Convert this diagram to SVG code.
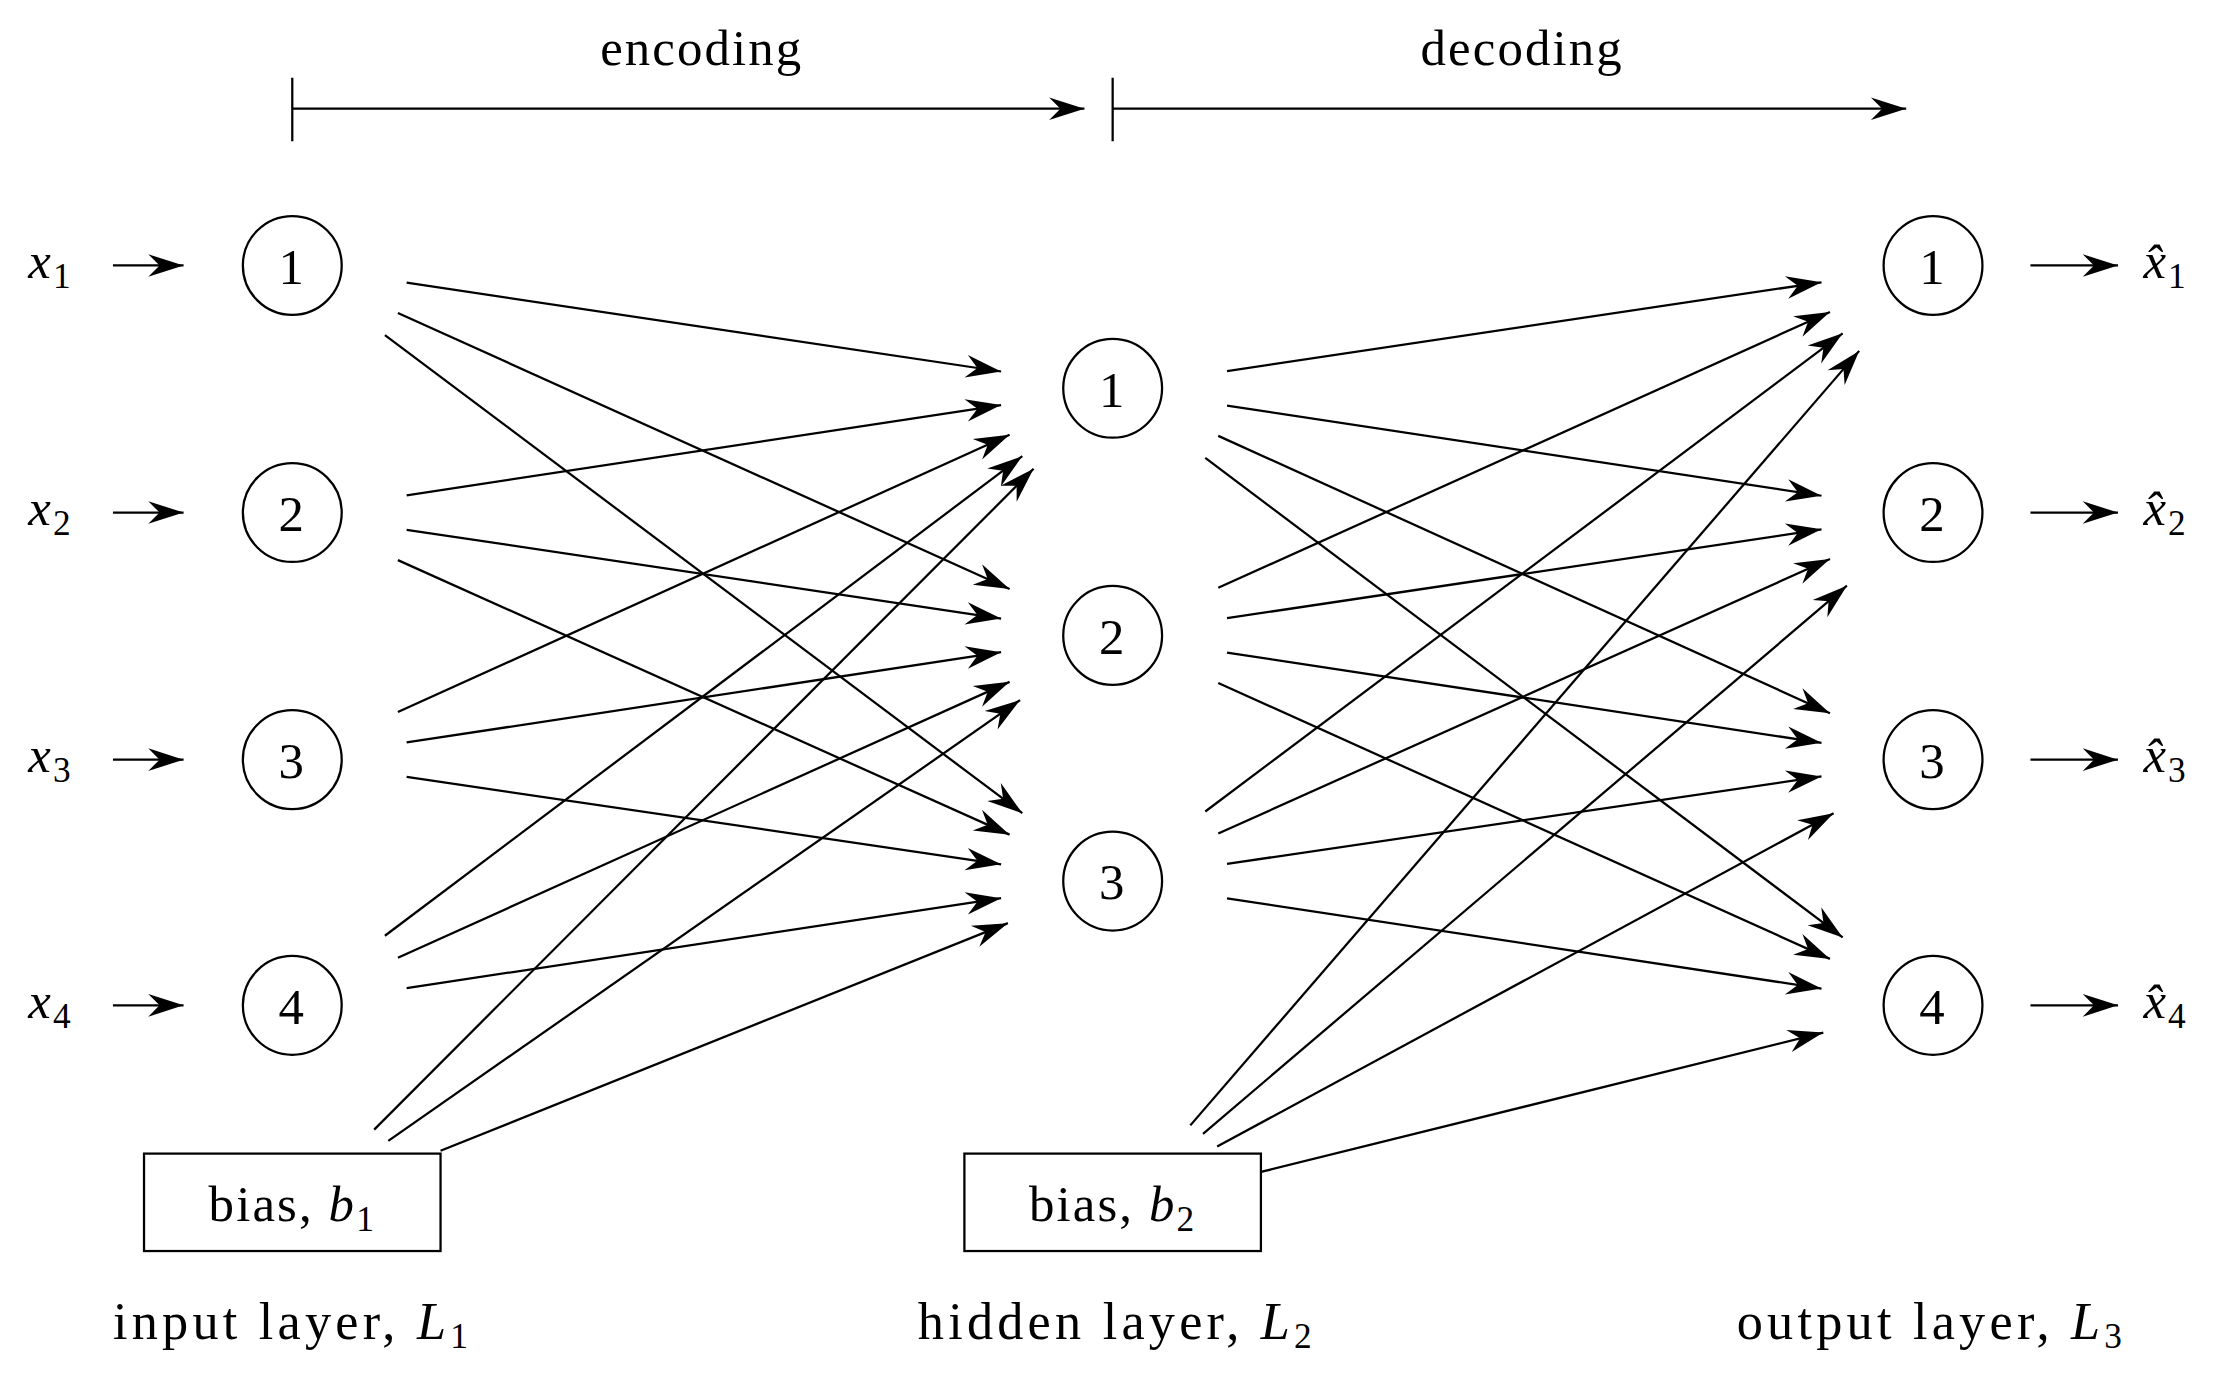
<svg xmlns="http://www.w3.org/2000/svg" width="2214" height="1378" viewBox="0 0 2214 1378">
<style>
.n{fill:#fff;stroke:#000;stroke-width:1.6}
.t{font-family:"Liberation Serif","DejaVu Serif",serif;font-size:36px;fill:#000;letter-spacing:1.5px}
.c{text-anchor:middle}
.i{font-style:italic}
.l{letter-spacing:3px;font-size:37px}
.e{stroke:#000;stroke-width:1.6;fill:none;marker-end:url(#ah)}
.p{stroke:#000;stroke-width:1.6;fill:none}
</style>
<defs>
<marker id="ah" markerUnits="userSpaceOnUse" viewBox="-26 -9 28 18" refX="0" refY="0" markerWidth="28" markerHeight="18" orient="auto">
<path d="M0,0 L-25,-8 L-17,0 L-25,8 Z" fill="#000"/>
</marker>
</defs>
<rect width="2214" height="1378" fill="#fff"/>
<g transform="scale(1.412)">
<g id="connectors">
<path class="p" d="M207,55V100M788,55V100"/>
<line class="e" x1="207" y1="77" x2="768" y2="77"/>
<line class="e" x1="788" y1="77" x2="1350" y2="77"/>
<line class="e" x1="80" y1="188" x2="130" y2="188"/>
<line class="e" x1="80" y1="363" x2="130" y2="363"/>
<line class="e" x1="80" y1="538" x2="130" y2="538"/>
<line class="e" x1="80" y1="712" x2="130" y2="712"/>
<line class="e" x1="1438" y1="188" x2="1500" y2="188"/>
<line class="e" x1="1438" y1="363" x2="1500" y2="363"/>
<line class="e" x1="1438" y1="538" x2="1500" y2="538"/>
<line class="e" x1="1438" y1="712" x2="1500" y2="712"/>
<line class="e" x1="288" y1="200.2" x2="709" y2="263.1"/>
<line class="e" x1="281.8" y1="221.7" x2="715" y2="417.1"/>
<line class="e" x1="272.6" y1="237.3" x2="724" y2="575.9"/>
<line class="e" x1="288" y1="350.8" x2="709" y2="286.9"/>
<line class="e" x1="288" y1="375.2" x2="709" y2="438.1"/>
<line class="e" x1="281.8" y1="396.7" x2="715" y2="591.1"/>
<line class="e" x1="281.8" y1="504.3" x2="715" y2="307.9"/>
<line class="e" x1="288" y1="525.8" x2="709" y2="461.9"/>
<line class="e" x1="288" y1="550.2" x2="709" y2="612.1"/>
<line class="e" x1="272.6" y1="662.7" x2="724" y2="323.1"/>
<line class="e" x1="281.8" y1="678.3" x2="715" y2="482.9"/>
<line class="e" x1="288" y1="699.8" x2="709" y2="636.1"/>
<line class="e" x1="265" y1="800" x2="732" y2="332"/>
<line class="e" x1="275" y1="808" x2="722.4" y2="495.8"/>
<line class="e" x1="312" y1="815" x2="713.8" y2="653.8"/>
<line class="e" x1="869" y1="262.8" x2="1290" y2="199.9"/>
<line class="e" x1="869" y1="287.2" x2="1290" y2="351.1"/>
<line class="e" x1="862.8" y1="308.7" x2="1296" y2="505.1"/>
<line class="e" x1="853.6" y1="324.3" x2="1305" y2="663.9"/>
<line class="e" x1="862.8" y1="416.3" x2="1296" y2="220.9"/>
<line class="e" x1="869" y1="437.8" x2="1290" y2="374.9"/>
<line class="e" x1="869" y1="462.2" x2="1290" y2="526.1"/>
<line class="e" x1="862.8" y1="483.7" x2="1296" y2="679.1"/>
<line class="e" x1="853.6" y1="574.7" x2="1305" y2="236.1"/>
<line class="e" x1="862.8" y1="590.3" x2="1296" y2="395.9"/>
<line class="e" x1="869" y1="611.8" x2="1290" y2="549.9"/>
<line class="e" x1="869" y1="636.2" x2="1290" y2="700.1"/>
<line class="e" x1="843" y1="797" x2="1316.7" y2="248.5"/>
<line class="e" x1="852" y1="803" x2="1308" y2="414.8"/>
<line class="e" x1="862" y1="812" x2="1298.6" y2="576"/>
<line class="e" x1="893" y1="830" x2="1291.3" y2="731.3"/>
</g>
<text class="t c" x="497" y="46">encoding</text>
<text class="t c" x="1078" y="46">decoding</text>
<g id="in1"><circle class="n" cx="207" cy="188" r="35"/><text class="t c" x="207" y="201">1</text></g>
<g id="in2"><circle class="n" cx="207" cy="363" r="35"/><text class="t c" x="207" y="376">2</text></g>
<g id="in3"><circle class="n" cx="207" cy="538" r="35"/><text class="t c" x="207" y="551">3</text></g>
<g id="in4"><circle class="n" cx="207" cy="712" r="35"/><text class="t c" x="207" y="725">4</text></g>
<g id="h1"><circle class="n" cx="788" cy="275" r="35"/><text class="t c" x="788" y="288">1</text></g>
<g id="h2"><circle class="n" cx="788" cy="450" r="35"/><text class="t c" x="788" y="463">2</text></g>
<g id="h3"><circle class="n" cx="788" cy="624" r="35"/><text class="t c" x="788" y="637">3</text></g>
<g id="o1"><circle class="n" cx="1369" cy="188" r="35"/><text class="t c" x="1369" y="201">1</text></g>
<g id="o2"><circle class="n" cx="1369" cy="363" r="35"/><text class="t c" x="1369" y="376">2</text></g>
<g id="o3"><circle class="n" cx="1369" cy="538" r="35"/><text class="t c" x="1369" y="551">3</text></g>
<g id="o4"><circle class="n" cx="1369" cy="712" r="35"/><text class="t c" x="1369" y="725">4</text></g>
<g id="b1"><rect class="n" x="102" y="817" width="210" height="69"/><text class="t c" x="207" y="865">bias, <tspan class="i">b</tspan><tspan font-size="25" dy="7">1</tspan></text></g>
<g id="b2"><rect class="n" x="683" y="817" width="210" height="69"/><text class="t c" x="788" y="865">bias, <tspan class="i">b</tspan><tspan font-size="25" dy="7">2</tspan></text></g>
<g id="xin">
<text class="t" x="20" y="197"><tspan class="i">x</tspan><tspan font-size="25" dy="7">1</tspan></text>
<text class="t" x="20" y="372"><tspan class="i">x</tspan><tspan font-size="25" dy="7">2</tspan></text>
<text class="t" x="20" y="547"><tspan class="i">x</tspan><tspan font-size="25" dy="7">3</tspan></text>
<text class="t" x="20" y="721"><tspan class="i">x</tspan><tspan font-size="25" dy="7">4</tspan></text>
</g>
<g id="xout">
<text class="t" x="1518" y="197"><tspan class="i">x̂</tspan><tspan font-size="25" dy="7">1</tspan></text>
<text class="t" x="1518" y="372"><tspan class="i">x̂</tspan><tspan font-size="25" dy="7">2</tspan></text>
<text class="t" x="1518" y="547"><tspan class="i">x̂</tspan><tspan font-size="25" dy="7">3</tspan></text>
<text class="t" x="1518" y="721"><tspan class="i">x̂</tspan><tspan font-size="25" dy="7">4</tspan></text>
</g>
<text class="t l" x="80" y="948">input layer, <tspan class="i">L</tspan><tspan font-size="25" dy="7">1</tspan></text>
<text class="t l" x="650" y="948">hidden layer, <tspan class="i">L</tspan><tspan font-size="25" dy="7">2</tspan></text>
<text class="t l" x="1230" y="948">output layer, <tspan class="i">L</tspan><tspan font-size="25" dy="7">3</tspan></text>
</g>
</svg>
